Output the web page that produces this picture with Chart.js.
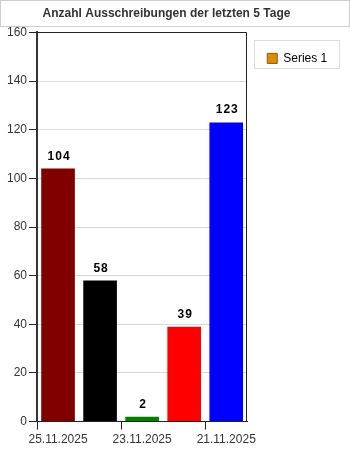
<!DOCTYPE html>
<html>
<head>
<meta charset="utf-8">
<script src="https://cdn.jsdelivr.net/npm/chart.js@4"></script>
<style>
  html, body { margin: 0; padding: 0; background: #fff; }
  #wrap { width: 350px; height: 450px; }
</style>
</head>
<body>
<div id="wrap"><canvas id="bieu_do" width="350" height="450"></canvas></div>
<script>
// Daten
const tage = ['25.11.2025', '24.11.2025', '23.11.2025', '22.11.2025', '21.11.2025'];
const werte = [104, 58, 2, 39, 123];
const farben = ['#800000', '#000000', '#008000', '#ff0000', '#0000ff'];
const titel = 'Anzahl Ausschreibungen der letzten 5 Tage';
const serie = 'Series 1';

const schrift = 'Liberation Sans, Arial, sans-serif';

// Rahmen um Titel, Plotfläche und Legende
const rahmen = {
    id: 'rahmen',
    beforeDraw(chart) {
        const c = chart.ctx;
        c.save();
        c.strokeStyle = '#cccccc';
        c.lineWidth = 1;
        c.strokeRect(0.5, 0.5, 349, 26);
        const lg = chart.legend;
        c.strokeStyle = '#dddddd';
        c.strokeRect(Math.round(lg.left) + 7.5, Math.round(lg.top) + 8.5, 85, 28);
        c.restore();
    },
    afterDraw(chart) {
        const a = chart.chartArea;
        const c = chart.ctx;
        c.save();
        c.strokeStyle = '#222';
        c.lineWidth = 1;
        c.beginPath();
        c.moveTo(Math.round(a.left), Math.round(a.top) + 0.5);
        c.lineTo(Math.round(a.right) - 0.5, Math.round(a.top) + 0.5);
        c.lineTo(Math.round(a.right) - 0.5, Math.round(a.bottom));
        c.stroke();
        c.restore();
    }
};

// Werte über den Balken
const beschriftung = {
    id: 'beschriftung',
    afterDatasetsDraw(chart) {
        const c = chart.ctx;
        const meta = chart.getDatasetMeta(0);
        c.save();
        c.font = 'bold 12px ' + schrift;
        c.fillStyle = '#000';
        c.textAlign = 'center';
        c.textBaseline = 'alphabetic';
        c.letterSpacing = '1px';
        meta.data.forEach((bar, i) => {
            c.fillText(String(werte[i]), bar.x + 1, bar.y - 9);
        });
        c.restore();
    }
};

const ctx = document.getElementById('bieu_do');
const diagramm = new Chart(ctx, {
    type: 'bar',
    data: {
        labels: tage,
        datasets: [{
            label: serie,
            data: werte,
            backgroundColor: farben,
            borderWidth: 0,
            barPercentage: 0.8,
            categoryPercentage: 1.0
        }]
    },
    plugins: [rahmen, beschriftung],
    options: {
        responsive: false,
        animation: false,
        layout: { padding: { left: 5, right: 22, top: 0, bottom: 0 } },
        plugins: {
            title: {
                display: true,
                text: titel,
                color: '#333',
                font: { family: schrift, size: 12, weight: 'bold' },
                padding: { top: 6, bottom: 12 }
            },
            legend: {
                position: 'right',
                align: 'start',
                fullSize: false,
                labels: {
                    boxWidth: 10,
                    boxHeight: 10,
                    padding: 20,
                    color: '#222',
                    font: { family: schrift, size: 12 },
                    generateLabels: () => [{
                        text: serie,
                        fillStyle: '#e08c00',
                        strokeStyle: '#8a5a10',
                        lineWidth: 1,
                        datasetIndex: 0
                    }]
                }
            },
            tooltip: { enabled: false }
        },
        scales: {
            x: {
                offset: true,
                grid: {
                    offset: true,
                    drawOnChartArea: false,
                    drawTicks: true,
                    tickLength: 8,
                    tickColor: (c) => (c.index % 2 === 0 || c.index === tage.length) ? '#222' : 'rgba(0,0,0,0)'
                },
                border: { color: '#222', width: 1 },
                ticks: {
                    autoSkip: false,
                    maxRotation: 0,
                    padding: 3,
                    color: '#333',
                    font: { family: schrift, size: 12 },
                    callback: function (v, i) {
                        return i % 2 === 0 ? this.getLabelForValue(v) : '';
                    }
                }
            },
            y: {
                min: 0,
                max: 160,
                grid: {
                    color: '#d8d8d8',
                    tickColor: '#222',
                    tickLength: 8
                },
                border: { color: '#333', width: 2 },
                ticks: {
                    stepSize: 20,
                    padding: 2,
                    color: '#333',
                    font: { family: schrift, size: 12 }
                }
            }
        }
    }
});
</script>
</body>
</html>
